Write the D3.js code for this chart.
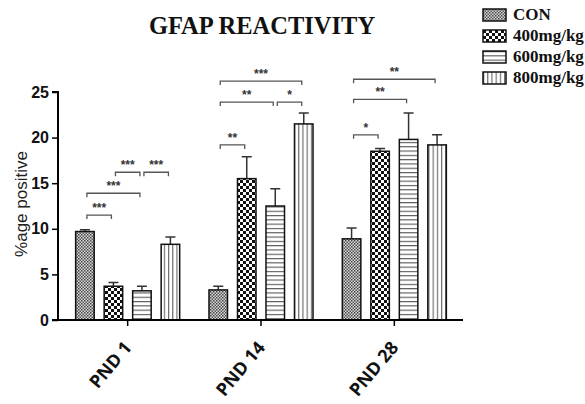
<!DOCTYPE html>
<html>
<head>
<meta charset="utf-8">
<script src="https://cdn.jsdelivr.net/npm/d3@7"></script>
<style>
  body { margin: 0; background: #fff; }
  svg { display: block; }
</style>
</head>
<body>
<div id="chart"></div>
<script>
// data
var groups = ['PND 1', 'PND 14', 'PND 28'];
var series = ['CON', '400mg/kg', '600mg/kg', '800mg/kg'];
var means = [
  [9.7, 3.7, 3.2, 8.3],     // PND 1
  [3.3, 15.5, 12.5, 21.5],  // PND 14
  [8.9, 18.5, 19.8, 19.2]   // PND 28
];
var errs = [
  [0.2, 0.4, 0.5, 0.8],
  [0.4, 2.4, 1.9, 1.2],
  [1.2, 0.3, 2.9, 1.1]
];
var yTicks = [0, 5, 10, 15, 20, 25];
// significance brackets: group, from bar, to bar, height (y units), label
var sig = [
  [0, 0, 1, 11.5, '***'],
  [0, 0, 2, 13.9, '***'],
  [0, 1, 2, 16.2, '***'],
  [0, 2, 3, 16.2, '***'],
  [1, 0, 1, 19.2, '**'],
  [1, 0, 2, 23.9, '**'],
  [1, 2, 3, 23.9, '*'],
  [1, 0, 3, 26.2, '***'],
  [2, 0, 1, 20.3, '*'],
  [2, 0, 2, 24.2, '**'],
  [2, 0, 3, 26.4, '**']
];

var W = 585, H = 404;
var svg = d3.select('#chart').append('svg').attr('width', W).attr('height', H);

// hatch patterns for the four series
var defs = svg.append('defs');
var p0 = defs.append('pattern').attr('id', 'pat0').attr('patternUnits', 'userSpaceOnUse')
  .attr('width', 3).attr('height', 3);
p0.append('rect').attr('width', 3).attr('height', 3).attr('fill', '#d8d8d8');
p0.append('rect').attr('width', 1.5).attr('height', 1.5).attr('fill', '#444');
p0.append('rect').attr('x', 1.5).attr('y', 1.5).attr('width', 1.5).attr('height', 1.5).attr('fill', '#555');

var p1 = defs.append('pattern').attr('id', 'pat1').attr('patternUnits', 'userSpaceOnUse')
  .attr('width', 6).attr('height', 6);
p1.append('rect').attr('width', 6).attr('height', 6).attr('fill', '#fff');
p1.append('rect').attr('width', 3).attr('height', 3).attr('fill', '#111');
p1.append('rect').attr('x', 3).attr('y', 3).attr('width', 3).attr('height', 3).attr('fill', '#111');

var p2 = defs.append('pattern').attr('id', 'pat2').attr('patternUnits', 'userSpaceOnUse')
  .attr('width', 4).attr('height', 4.3);
p2.append('rect').attr('width', 4).attr('height', 4.3).attr('fill', '#fff');
p2.append('line').attr('x1', 0).attr('x2', 4).attr('y1', 0.6).attr('y2', 0.6)
  .attr('stroke', '#444').attr('stroke-width', 1);

var p3 = defs.append('pattern').attr('id', 'pat3').attr('patternUnits', 'userSpaceOnUse')
  .attr('width', 4.2).attr('height', 4);
p3.append('rect').attr('width', 4.2).attr('height', 4).attr('fill', '#fff');
p3.append('line').attr('y1', 0).attr('y2', 4).attr('x1', 0.6).attr('x2', 0.6)
  .attr('stroke', '#555').attr('stroke-width', 1);

// scales
var x0 = d3.scaleBand().domain(groups).range([61, 461]);
var x1 = d3.scaleBand().domain(series).range([-57, 57]).paddingInner(0.35).paddingOuter(0.175);
var y = d3.scaleLinear().domain([0, 25]).range([320, 92]);

function cx(g, s) {
  return x0(groups[g]) + x0.bandwidth() / 2 + x1(series[s]) + x1.bandwidth() / 2;
}

// bars
var rows = [];
groups.forEach(function(g, gi) {
  series.forEach(function(s, si) {
    rows.push({ g: gi, s: si, v: means[gi][si], e: errs[gi][si] });
  });
});

var bars = svg.append('g');
// error bars (upper only)
bars.selectAll('.err').data(rows).enter().append('path')
  .attr('class', 'err')
  .attr('d', function(d) {
    var c = cx(d.g, d.s), top = y(d.v + d.e);
    return 'M' + c + ',' + y(d.v) + 'V' + top + 'M' + (c - 5) + ',' + top + 'H' + (c + 5);
  })
  .attr('fill', 'none').attr('stroke', '#333').attr('stroke-width', 1.5);

bars.selectAll('.bar').data(rows).enter().append('rect')
  .attr('class', 'bar')
  .attr('x', function(d) { return cx(d.g, d.s) - x1.bandwidth() / 2; })
  .attr('y', function(d) { return y(d.v); })
  .attr('width', x1.bandwidth())
  .attr('height', function(d) { return y(0) - y(d.v); })
  .attr('fill', function(d) { return 'url(#pat' + d.s + ')'; })
  .attr('stroke', '#111').attr('stroke-width', 1.5);

// axes
var yAxis = svg.append('g').attr('transform', 'translate(58,0)')
  .call(d3.axisLeft(y).tickValues(yTicks).tickSize(6).tickPadding(3));
yAxis.select('.domain').attr('stroke-width', 2).attr('d', 'M-6,' + y(25) + 'H0V' + y(0) + 'H-6');
yAxis.selectAll('.tick line').attr('stroke-width', 1.5);
yAxis.selectAll('text').attr('font-family', 'Liberation Sans, Arial, sans-serif')
  .attr('font-size', 16).attr('font-weight', 'bold').attr('fill', '#111');

var xAxis = svg.append('g').attr('transform', 'translate(0,' + y(0) + ')')
  .call(d3.axisBottom(x0).tickSize(6).tickSizeOuter(0));
xAxis.select('.domain').attr('stroke-width', 2).attr('d', 'M57,0H463');
xAxis.selectAll('.tick line').attr('stroke-width', 1.5);
xAxis.selectAll('text')
  .attr('font-family', 'Open Sans, Liberation Sans, sans-serif')
  .attr('font-size', 18).attr('font-weight', 'bold').attr('fill', '#111')
  .attr('text-anchor', 'end')
  .attr('x', 0).attr('y', 0).attr('dy', null)
  .attr('transform', 'translate(5,28) rotate(-50)');

// y title
svg.append('text')
  .attr('transform', 'translate(27,204) rotate(-90)')
  .attr('text-anchor', 'middle')
  .attr('font-family', 'Liberation Sans, Arial, sans-serif')
  .attr('font-size', 17).attr('fill', '#222')
  .text('%age positive');

// title
svg.append('text')
  .attr('x', 262).attr('y', 34)
  .attr('text-anchor', 'middle')
  .attr('font-family', 'Liberation Serif, Times New Roman, serif')
  .attr('font-size', 24.5).attr('font-weight', 'bold').attr('fill', '#111')
  .text('GFAP REACTIVITY');

// significance brackets
var sg = svg.append('g');
sig.forEach(function(b) {
  var xa = cx(b[0], b[1]) + 2, xb = cx(b[0], b[2]) - 2, yy = y(b[3]);
  sg.append('path')
    .attr('d', 'M' + xa + ',' + (yy + 4) + 'V' + yy + 'H' + xb + 'V' + (yy + 4))
    .attr('fill', 'none').attr('stroke', '#555').attr('stroke-width', 1.3);
  sg.append('text')
    .attr('x', (xa + xb) / 2).attr('y', yy - 3)
    .attr('text-anchor', 'middle')
    .attr('font-family', 'Liberation Sans, Arial, sans-serif')
    .attr('font-size', 12).attr('font-weight', 'bold').attr('fill', '#333')
    .text(b[4]);
});

// legend
var lg = svg.append('g').attr('transform', 'translate(483,9)');
series.forEach(function(s, i) {
  var row = lg.append('g').attr('transform', 'translate(0,' + (i * 21) + ')');
  row.append('rect').attr('width', 23).attr('height', 12)
    .attr('fill', 'url(#pat' + i + ')').attr('stroke', '#111').attr('stroke-width', 1.5);
  row.append('text').attr('x', 30).attr('y', 11)
    .attr('font-family', 'Liberation Serif, Times New Roman, serif')
    .attr('font-size', 17).attr('font-weight', 'bold').attr('fill', '#111')
    .text(s);
});
</script>
</body>
</html>
